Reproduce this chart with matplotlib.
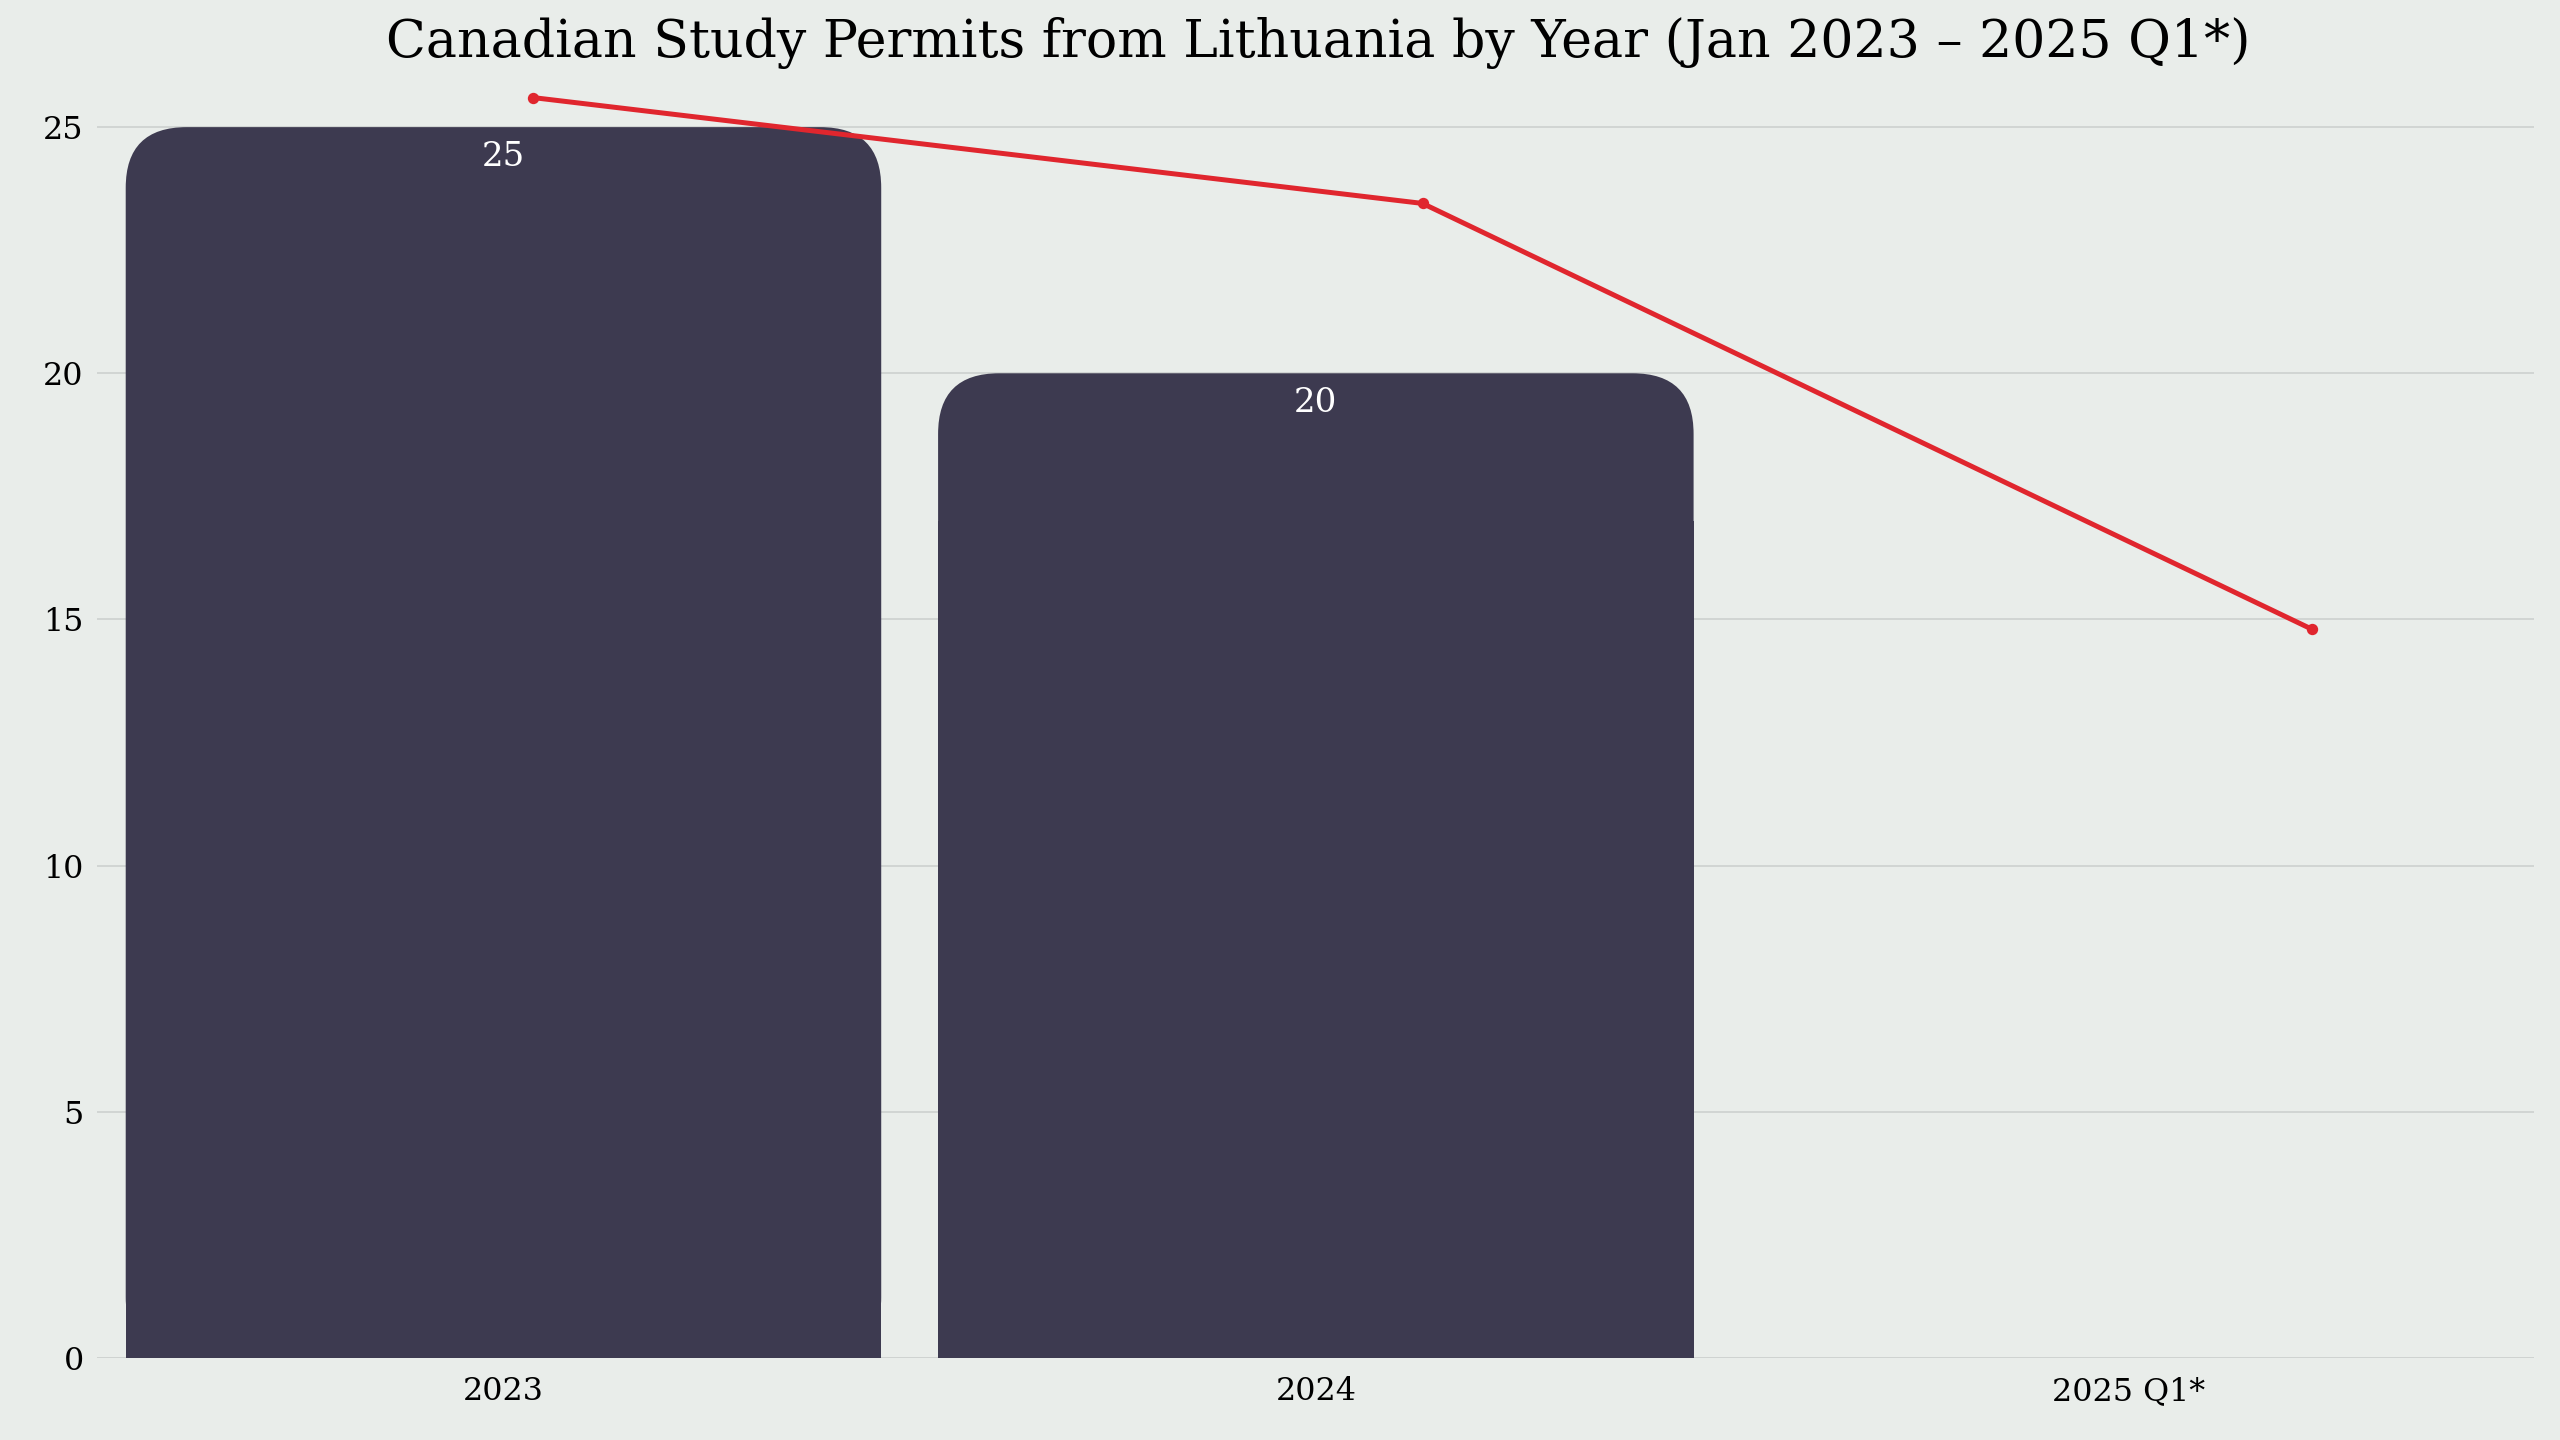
import matplotlib.pyplot as plt
from matplotlib.patches import FancyBboxPatch, Rectangle

plt.rcParams.update({
    "font.family": "DejaVu Serif",
})

# data
years = ['2023', '2024', '2025 Q1*']
permits = [25, 20, 0]
trend = [25.6, 23.45, 14.8]

bg = '#E9EDEA'
bar_color = '#3D3A50'
line_color = '#E0262E'

fig = plt.figure(figsize=(15.68, 8.82), dpi=2560 / 15.68)
fig.patch.set_facecolor(bg)
ax = fig.add_axes([0.038, 0.057, 0.952, 0.906])
ax.set_facecolor(bg)

width = 0.93
ax.set_xlim(-0.5, len(years) - 0.5)
ax.set_ylim(0, 26.5)

rad = 0.075
aspect = 16.4
for i, v in enumerate(permits):
    if v <= 0:
        continue
    x0 = i - width / 2
    top = FancyBboxPatch((x0 + rad, rad * aspect), width - 2 * rad, v - 2 * rad * aspect,
                         boxstyle=f"round,pad={rad}", mutation_aspect=aspect,
                         facecolor=bar_color, edgecolor='none', zorder=2)
    ax.add_patch(top)
    ax.add_patch(Rectangle((x0, 0), width, v - 3, facecolor=bar_color,
                           edgecolor='none', zorder=2))
    ax.text(i, v - 0.6, str(v), ha='center', va='center', color='white',
            fontsize=15, zorder=3)

ax.set_xticks(range(len(years)))
ax.set_xticklabels(years, fontsize=14)
ax.set_yticks([0, 5, 10, 15, 20, 25])
ax.tick_params(axis='y', labelsize=14, length=0, pad=6)
ax.tick_params(axis='x', length=0, pad=8)
ax.grid(axis='y', color='#CFD3D1', linewidth=0.8, zorder=0)
ax.set_axisbelow(True)
for s in ax.spines.values():
    s.set_visible(False)
ax.axhline(0, color='#CFD3D1', linewidth=0.8, zorder=1)

# trend line on its own x scale
ax2 = ax.twiny()
ax2.set_xlim(-0.49, 2.25)
ax2.plot(range(len(trend)), trend, color=line_color, linewidth=2.2,
         marker='o', markersize=4, zorder=4)
ax2.set_xticks([])
for s in ax2.spines.values():
    s.set_visible(False)

fig.text(0.515, 0.97, 'Canadian Study Permits from Lithuania by Year (Jan 2023 – 2025 Q1*)',
         ha='center', va='center', fontsize=23)

fig.savefig('out.png', facecolor=bg)
